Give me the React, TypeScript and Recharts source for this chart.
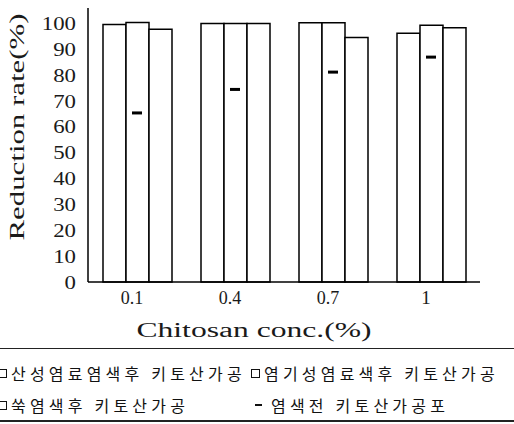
import { ComposedChart, Bar, Line, XAxis, YAxis, Legend, Label } from 'recharts';

const categories = ['0.1', '0.4', '0.7', '1'];
const acidDyed = [99.6, 100, 100.3, 96.2];
const basicDyed = [100.4, 100, 100.3, 99.3];
const mugwortDyed = [97.8, 100, 94.6, 98.4];
const undyed = [65.4, 74.5, 81.2, 87];
const yTicks = [0, 10, 20, 30, 40, 50, 60, 70, 80, 90, 100];

const seriesNames = {
  acid: '산성염료염색후 키토산가공',
  basic: '염기성염료색후 키토산가공',
  mugwort: '쑥염색후 키토산가공',
  undyed: '염색전 키토산가공포',
};
const legendOrder = ['acid', 'basic', 'mugwort', 'undyed'];

const data = categories.map((conc, i) => ({
  conc,
  acid: acidDyed[i],
  basic: basicDyed[i],
  mugwort: mugwortDyed[i],
  undyed: undyed[i],
}));

const SERIF = '"Liberation Serif", "DejaVu Serif", serif';
const KR = '"Noto Sans CJK KR", sans-serif';

function DashDot(props: any) {
  const { cx, cy } = props;
  if (cx == null || cy == null) return null;
  return <rect x={cx - 5} y={cy - 1.5} width={10} height={3} fill="#000" />;
}

// wide serif digits like the scanned figure
function YTick(props: any) {
  const { x, y, payload } = props;
  const label = String(payload.value);
  return (
    <text
      x={x - 2}
      y={y}
      textAnchor="end"
      dominantBaseline="central"
      fontFamily={SERIF}
      fontSize={19}
      fill="#1a1a1a"
      textLength={label.length * 11.4}
      lengthAdjust="spacingAndGlyphs"
    >
      {label}
    </text>
  );
}

function XTick(props: any) {
  const { x, y, payload } = props;
  const label = String(payload.value);
  return (
    <text
      x={x - 5}
      y={y + 7}
      textAnchor="middle"
      dominantBaseline="central"
      fontFamily={SERIF}
      fontSize={19}
      fill="#1a1a1a"
      textLength={label.length === 1 ? undefined : label.length * 7.5}
      lengthAdjust="spacingAndGlyphs"
    >
      {label}
    </text>
  );
}

function LegendBox({ payload }: any) {
  const items = legendOrder
    .map((k) => (payload || []).find((p: any) => p.dataKey === k))
    .filter(Boolean);
  return (
    <div
      style={{
        width: 518,
        height: 74,
        marginLeft: -2,
        borderTop: '1.5px solid #222',
        borderBottom: '2px solid #222',
        boxSizing: 'border-box',
        fontFamily: KR,
        fontSize: 16,
        letterSpacing: 4.2,
        color: '#111',
        display: 'grid',
        gridTemplateColumns: '253px 1fr',
        gridTemplateRows: '32px 32px',
        paddingTop: 8,
      }}
    >
      {items.map((entry: any) => {
        const isDash = entry.dataKey === 'undyed';
        return (
          <div
            key={entry.dataKey}
            style={{ display: 'flex', alignItems: 'center', whiteSpace: 'nowrap', paddingLeft: isDash ? 4 : 0 }}
          >
            {isDash ? (
              <span style={{ display: 'inline-block', width: 7, height: 2, background: '#111', marginRight: 9 }} />
            ) : (
              <span
                style={{
                  display: 'inline-block',
                  width: 9,
                  height: 9,
                  border: '1px solid #111',
                  marginRight: 4,
                  boxSizing: 'border-box',
                }}
              />
            )}
            {entry.value}
          </div>
        );
      })}
    </div>
  );
}

export default function App() {
  return (
    <div style={{ position: 'absolute', left: 0, top: 0, background: '#fff' }}>
      <ComposedChart
        width={514}
        height={424}
        data={data}
        margin={{ top: 8, right: 34, bottom: 2, left: 0 }}
        barCategoryGap={15}
        barGap={0}
      >
        <XAxis
          dataKey="conc"
          height={66}
          tickLine={false}
          axisLine={{ stroke: '#000', strokeWidth: 1.5 }}
          tick={<XTick />}
        >
          <Label
            content={({ viewBox }: any) => (
              <text
                x={viewBox.x + viewBox.width / 2 - 30}
                y={viewBox.y + 48}
                textAnchor="middle"
                dominantBaseline="central"
                fontFamily={SERIF}
                fontSize={20}
                fill="#1a1a1a"
                textLength={235}
                lengthAdjust="spacingAndGlyphs"
              >
                Chitosan conc.(%)
              </text>
            )}
          />
        </XAxis>
        <XAxis
          xAxisId="top"
          dataKey="conc"
          orientation="top"
          height={0}
          tick={false}
          tickLine={false}
          axisLine={{ stroke: '#aaa', strokeDasharray: '10 8' }}
        />
        <YAxis
          width={88}
          domain={[0, 106]}
          ticks={yTicks}
          interval={0}
          tickLine={false}
          tickMargin={4}
          axisLine={{ stroke: '#000', strokeWidth: 1.5 }}
          tick={<YTick />}
        >
          <Label
            content={() => (
              <text
                transform="translate(17,127) rotate(-90)"
                textAnchor="middle"
                dominantBaseline="central"
                fontFamily={SERIF}
                fontSize={21}
                fill="#1a1a1a"
                textLength={227}
                lengthAdjust="spacingAndGlyphs"
              >
                Reduction rate(%)
              </text>
            )}
          />
        </YAxis>
        <YAxis
          yAxisId="right"
          orientation="right"
          width={0}
          domain={[0, 106]}
          tick={false}
          tickLine={false}
          axisLine={{ stroke: '#aaa', strokeDasharray: '8 10' }}
        />
        <Legend verticalAlign="bottom" content={<LegendBox />} wrapperStyle={{ left: 0, bottom: 2, width: 514 }} />
        <Bar dataKey="acid" name={seriesNames.acid} fill="#fff" stroke="#000" strokeWidth={1.5} isAnimationActive={false} />
        <Bar dataKey="basic" name={seriesNames.basic} fill="#fff" stroke="#000" strokeWidth={1.5} isAnimationActive={false} />
        <Bar dataKey="mugwort" name={seriesNames.mugwort} fill="#fff" stroke="#000" strokeWidth={1.5} isAnimationActive={false} />
        <Line
          dataKey="undyed"
          name={seriesNames.undyed}
          stroke="none"
          dot={<DashDot />}
          activeDot={false}
          isAnimationActive={false}
        />
      </ComposedChart>
    </div>
  );
}
